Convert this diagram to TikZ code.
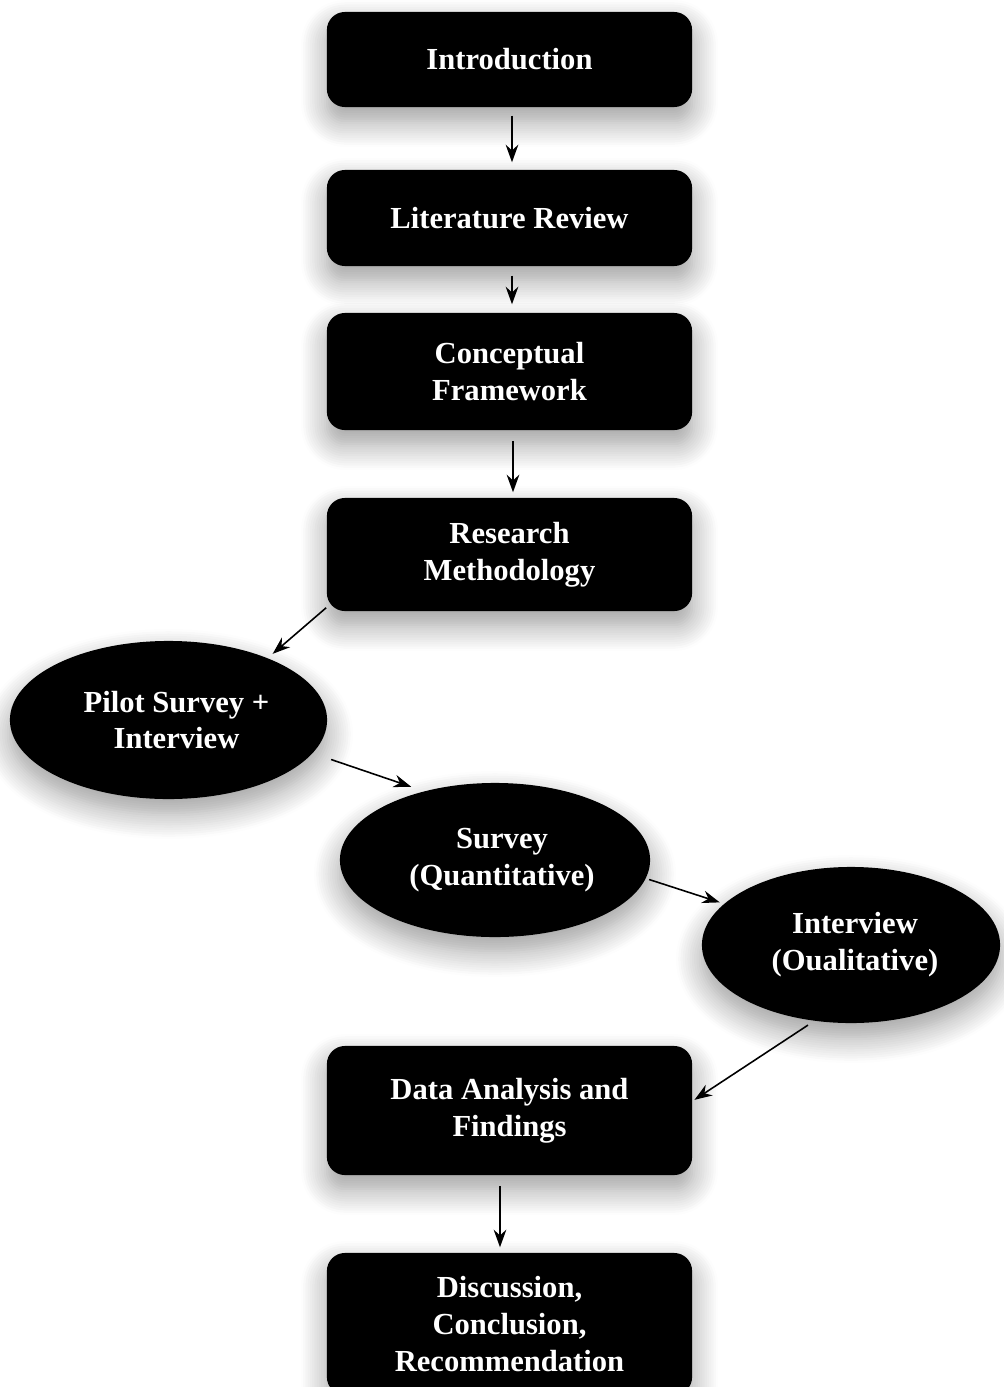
\documentclass[tikz,border=0pt]{standalone}
\usepackage{fontspec}
\setmainfont{Liberation Serif}
\usetikzlibrary{shapes.geometric,arrows.meta,shadows.blur}

\tikzset{
  sombra/.style={blur shadow={shadow xshift=0pt, shadow yshift=-0.14cm, shadow blur radius=0.26cm, shadow blur steps=12, shadow opacity=40}},
  caja/.style={rectangle, rounded corners=0.18cm, fill=black, text=white, align=center,
    minimum width=3.65cm, inner sep=0pt, font=\bfseries\fontsize{8.7}{10.5}\selectfont, sombra},
  elipse/.style={ellipse, fill=black, text=white, align=center,
    inner sep=0pt, font=\bfseries\fontsize{8.7}{10.5}\selectfont, sombra},
  flecha/.style={-{Stealth[length=5pt,width=3.6pt]}, line width=0.45pt}
}

\begin{document}
\begin{tikzpicture}[x=0.01cm, y=-0.01cm]
  \useasboundingbox (0,0) rectangle (1004,1387);
  % Cajas
  \node[caja, minimum height=0.95cm] (intro) at (509.5,59.5) {Introduction};
  \node[caja, minimum height=0.96cm] (litrev) at (509.5,218) {Literature Review};
  \node[caja, minimum height=1.17cm] (marco) at (509.5,371.5) {Conceptual\\Framework};
  \node[caja, minimum height=1.13cm] (metodo) at (509.5,554.5) {Research\\Methodology};
  % Elipses
  \node[elipse, minimum width=3.17cm, minimum height=1.58cm] (piloto) at (168.5,720) {\hspace{0.16cm}Pilot Survey +\\\hspace{0.16cm}Interview};
  \node[elipse, minimum width=3.10cm, minimum height=1.54cm] (encuesta) at (495,860) {\hspace{0.14cm}Survey\\\hspace{0.14cm}(Quantitative)};
  \node[elipse, minimum width=2.98cm, minimum height=1.56cm] (entrevista) at (851,945) {\hspace{0.08cm}Interview\\\hspace{0.08cm}(Oualitative)};
  % Cajas finales
  \node[caja, minimum height=1.29cm] (analisis) at (509.5,1110.5) {Data Analysis and\\Findings};
  \node[caja, minimum height=1.42cm] (discusion) at (509.5,1324) {Discussion,\\Conclusion,\\Recommendation};
  % Flechas
  \draw[flecha, shorten <=0.08cm, shorten >=0.07cm] ([xshift=0.025cm]intro.south) -- ([xshift=0.025cm]litrev.north);
  \draw[flecha, shorten <=0.09cm, shorten >=0.08cm] ([xshift=0.025cm]litrev.south) -- ([xshift=0.025cm]marco.north);
  \draw[flecha, shorten <=0.1cm, shorten >=0.05cm] ([xshift=0.035cm]marco.south) -- ([xshift=0.035cm]metodo.north);
  \draw[flecha, shorten >=0.06cm] ([yshift=0.04cm]metodo.south west) -- (piloto.32);
  \draw[flecha, shorten <=0.19cm, shorten >=0.13cm] (piloto.-13) -- (encuesta.136);
  \draw[flecha, shorten <=0.03cm, shorten >=0.04cm] (encuesta.-7) -- (entrevista.162);
  \draw[flecha, shorten <=0.07cm, shorten >=0.02cm] (entrevista.-116) -- (analisis.3);
  \draw[flecha, shorten <=0.1cm, shorten >=0.05cm] ([xshift=-0.095cm]analisis.south) -- ([xshift=-0.095cm]discusion.north);
\end{tikzpicture}
\end{document}
